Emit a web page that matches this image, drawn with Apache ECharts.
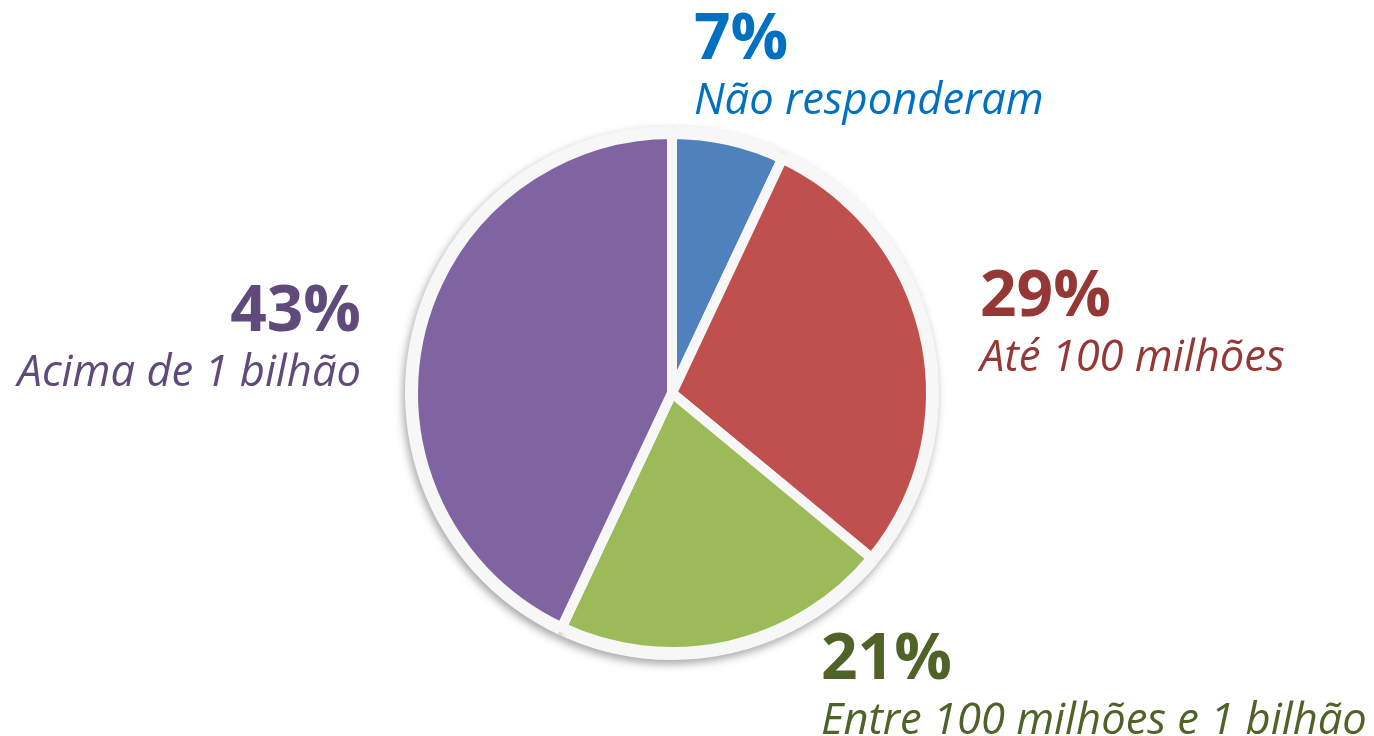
<!DOCTYPE html>
<html>
<head>
<meta charset="utf-8">
<script src="https://cdn.jsdelivr.net/npm/echarts@6/dist/echarts.min.js"></script>
<style>
  html, body { margin: 0; padding: 0; background: #fff; }
  #chart { width: 1374px; height: 736px; }
</style>
</head>
<body>
<div id="chart"></div>
<script>
  // faixas de faturamento (sentido horário a partir do topo)
  const categories = ['Não responderam', 'Até 100 milhões', 'Entre 100 milhões e 1 bilhão', 'Acima de 1 bilhão'];
  const values = [7, 29, 21, 43];
  const sliceColors = ['#4f81bd', '#c0504d', '#9bbb59', '#8064a2'];
  const labelColors = ['#0070c0', '#953735', '#4f6228', '#604a7b'];

  // onde cada rótulo fica (x, y do topo, alinhamento)
  const labelSpots = [
    { x: 694, y: 4, align: 'left' },
    { x: 980, y: 261, align: 'left' },
    { x: 821, y: 624, align: 'left' },
    { x: 361, y: 276, align: 'right' }
  ];

  const chart = echarts.init(document.getElementById('chart'));

  const pieData = categories.map((name, i) => ({
    name: name,
    value: values[i],
    itemStyle: { color: sliceColors[i] },
    label: {
      rich: {
        p: { fontFamily: 'Open Sans', fontWeight: 'bold', fontSize: 64, lineHeight: 74, color: labelColors[i] },
        n: { fontFamily: 'Open Sans', fontStyle: 'italic', fontSize: 43.5, lineHeight: 48, color: labelColors[i] }
      }
    }
  }));

  const option = {
    animation: false,
    series: [
      {
        // fundo cinza claro com sombra
        type: 'pie',
        center: [672, 393],
        radius: [0, 267],
        startAngle: 90,
        clockwise: true,
        silent: true,
        label: { show: false },
        labelLine: { show: false },
        data: values.map((v) => ({ value: v })),
        itemStyle: {
          color: '#f7f7f7',
          shadowBlur: 8,
          shadowOffsetX: -2,
          shadowOffsetY: 4,
          shadowColor: 'rgba(0,0,0,0.35)'
        }
      },
      {
        type: 'pie',
        center: [672, 393],
        radius: [0, 259],
        startAngle: 90,
        clockwise: true,
        data: pieData,
        itemStyle: {
          borderColor: '#f7f7f7',
          borderWidth: 10
        },
        label: {
          show: true,
          position: 'outside',
          formatter: (p) => '{p|' + p.value + '%}\n{n|' + p.name + '}'
        },
        labelLine: { show: false },
        labelLayout: (params) => {
          const s = labelSpots[params.dataIndex];
          return { x: s.x, y: s.y, align: s.align, verticalAlign: 'top' };
        }
      }
    ]
  };

  chart.setOption(option);
  window.addEventListener('resize', chart.resize);
</script>
</body>
</html>
